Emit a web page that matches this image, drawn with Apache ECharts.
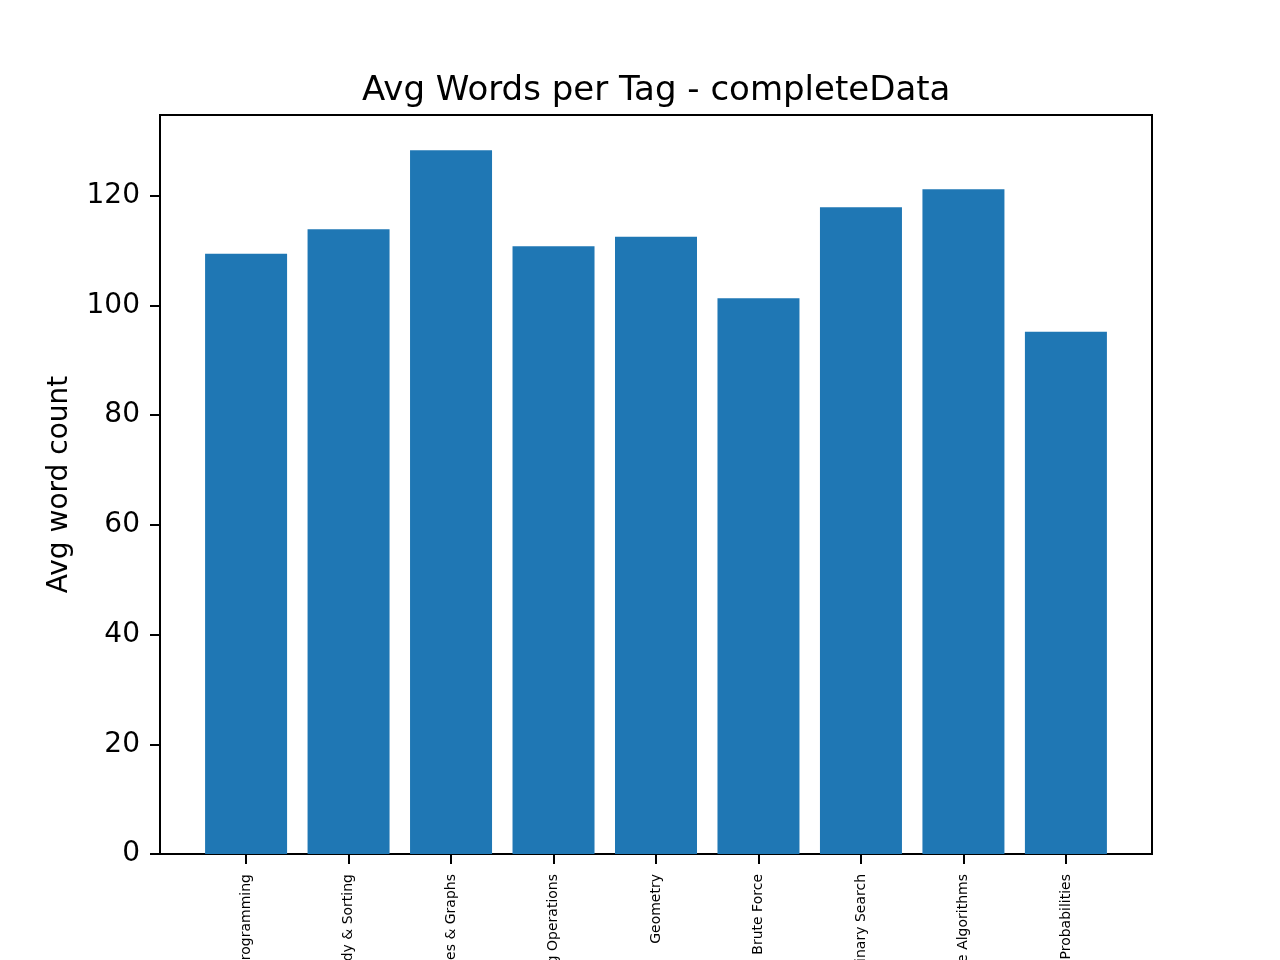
<!DOCTYPE html>
<html>
<head>
<meta charset="utf-8">
<title>Avg Words per Tag</title>
<script src="https://cdn.jsdelivr.net/npm/echarts@6/dist/echarts.min.js"></script>
<style>
  html, body { margin: 0; padding: 0; background: #fff; }
  #chart { width: 1280px; height: 960px; }
</style>
</head>
<body>
<div id="chart"></div>
<script>
// tags on the x axis (only the tail of each name fits on the page)
const tagNames = [
  'Dynamic Programming',
  'Greedy & Sorting',
  'Trees & Graphs',
  'String Operations',
  'Geometry',
  'Brute Force',
  'Binary Search',
  'Simple Algorithms',
  'Math & Probabilities'
]
const tagPositions = [0, 1, 2, 3, 4, 5, 6, 7, 8]
const avgWords = [109.4, 113.9, 128.3, 110.8, 112.5, 101.3, 117.9, 121.2, 95.2]
const yTicks = [0, 20, 40, 60, 80, 100, 120]

const font = 'DejaVu Sans'
const barData = tagPositions.map((x, i) => [x, avgWords[i]])
const yMax = Math.max(...avgWords) * 1.05

const chart = echarts.init(document.getElementById('chart'))
const option = {
  animation: false,
  backgroundColor: '#fff',
  title: {
    text: 'Avg Words per Tag - completeData',
    left: 362,
    top: 74,
    padding: 0,
    textStyle: {
      fontFamily: font,
      fontSize: 34,
      fontWeight: 'normal',
      color: '#000'
    }
  },
  grid: {
    left: 160,
    right: 128,
    top: 115,
    bottom: 106,
    containLabel: false,
    outerBoundsMode: 'none',
    show: true,
    borderColor: '#000',
    borderWidth: 2,
    backgroundColor: '#fff'
  },
  xAxis: {
    type: 'value',
    min: -0.84,
    max: 8.84,
    splitLine: { show: false },
    axisLine: { show: true, onZero: false, lineStyle: { color: '#000', width: 2 } },
    axisTick: {
      show: true,
      customValues: tagPositions,
      length: 10,
      lineStyle: { color: '#000', width: 2 }
    },
    axisLabel: {
      customValues: tagPositions,
      formatter: (v) => tagNames[v],
      rotate: 90,
      margin: 20,
      fontFamily: font,
      fontSize: 14,
      color: '#000'
    }
  },
  yAxis: {
    type: 'value',
    min: 0,
    max: yMax,
    name: 'Avg word count',
    nameLocation: 'middle',
    nameGap: 86,
    nameTextStyle: { fontFamily: font, fontSize: 28, color: '#000' },
    splitLine: { show: false },
    axisLine: { show: true, onZero: false, lineStyle: { color: '#000', width: 2 } },
    axisTick: {
      show: true,
      customValues: yTicks,
      length: 10,
      lineStyle: { color: '#000', width: 2 }
    },
    axisLabel: {
      customValues: yTicks,
      margin: 20,
      padding: [5, 0, 0, 0],
      fontFamily: font,
      fontSize: 28,
      color: '#000'
    }
  },
  series: [
    {
      type: 'bar',
      data: barData,
      barWidth: 82,
      itemStyle: { color: '#1f77b4' }
    }
  ]
}
chart.setOption(option)
</script>
</body>
</html>
